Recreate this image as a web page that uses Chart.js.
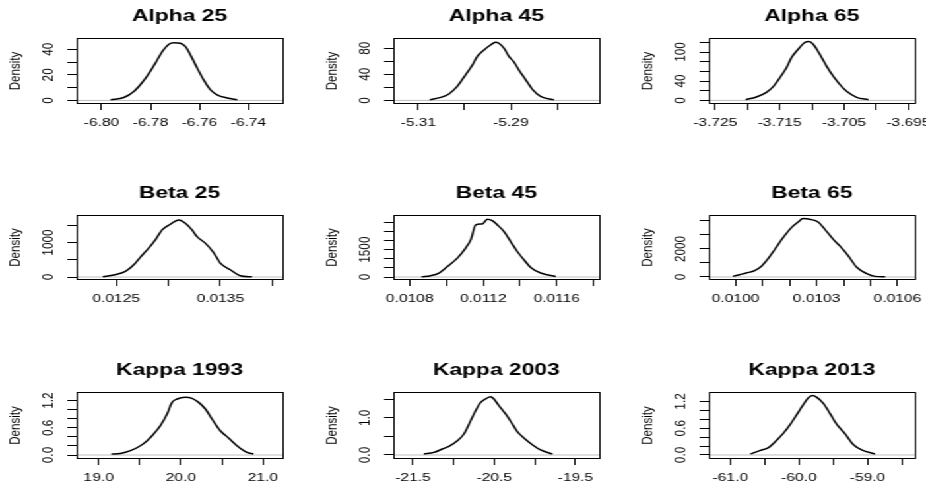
<!DOCTYPE html>
<html>
<head>
<meta charset="utf-8">
<script src="https://cdn.jsdelivr.net/npm/chart.js@4.4.1/dist/chart.umd.min.js"></script>
<style>
  html, body { margin: 0; padding: 0; background: #fff; overflow: hidden; width: 926px; height: 490px; }
  #wrap { position: absolute; left: 0; top: 0; width: 702px; height: 490px; transform: scaleX(1.32); transform-origin: 0 0; }
  #wrap canvas { position: absolute; }
</style>
</head>
<body>
<div id="wrap"></div>
<script>
// posterior density curves
const alpha25X = [-6.7963, -6.7909, -6.7868, -6.7834, -6.7807, -6.7780, -6.7752, -6.7725, -6.7705, -6.7678, -6.7657, -6.7637, -6.7609, -6.7583, -6.7555, -6.7528, -6.7487, -6.7446];
const alpha25Y = [0.5, 2.3, 7.0, 14, 21, 29.1, 38.1, 43.9, 45.1, 44.6, 42, 35.6, 25.2, 16.1, 8.3, 4.4, 1.9, 0.5];

const alpha45X = [-5.3075, -5.3052, -5.3034, -5.3016, -5.2998, -5.2983, -5.2973, -5.2958, -5.2944, -5.2933, -5.2926, -5.2915, -5.2904, -5.2894, -5.2883, -5.2868, -5.2854, -5.2836, -5.2807];
const alpha45Y = [1.1, 4.6, 9.8, 21.4, 39.2, 54.5, 67.2, 77.4, 85, 89.1, 87.6, 80, 67.2, 59.5, 46.9, 31.6, 17.4, 6.1, 1.1];

const alpha65X = [-3.72028, -3.71861, -3.71705, -3.71603, -3.71498, -3.71394, -3.71316, -3.71213, -3.71109, -3.71046, -3.70979, -3.70875, -3.70771, -3.70668, -3.70563, -3.70459, -3.70303, -3.70122];
const alpha65Y = [1.5, 7.1, 16.7, 27.9, 46.7, 67.5, 88.3, 105.6, 119.6, 121.7, 116, 95.2, 70.8, 50, 32.7, 18.8, 6.3, 1.5];

const beta25X = [0.012372, 0.012477, 0.012589, 0.012669, 0.012733, 0.012812, 0.012876, 0.012941, 0.013020, 0.013100, 0.013164, 0.013228, 0.013276, 0.013355, 0.013435, 0.013499, 0.013595, 0.013691, 0.013803];
const beta25Y = [5, 58, 162, 355, 578, 838, 1078, 1367, 1532, 1656, 1561, 1367, 1173, 983, 711, 405, 211, 38, 5];

const beta45X = [0.010865, 0.010914, 0.010959, 0.011005, 0.011059, 0.011104, 0.011132, 0.011159, 0.011195, 0.011222, 0.011249, 0.011277, 0.011313, 0.011349, 0.011385, 0.011421, 0.011458, 0.011512, 0.011594];
const beta45Y = [10, 71, 218, 578, 1037, 1582, 2035, 2853, 2908, 3164, 3088, 2853, 2488, 1942, 1397, 944, 524, 218, 33];

const beta65X = [0.009990, 0.010015, 0.010040, 0.010071, 0.010096, 0.010120, 0.010145, 0.010176, 0.010207, 0.010232, 0.010250, 0.010275, 0.010306, 0.010331, 0.010362, 0.010387, 0.010417, 0.010449, 0.010486, 0.010517, 0.010554];
const beta65Y = [43, 165, 287, 453, 761, 1293, 1961, 2802, 3520, 3922, 4167, 4116, 3922, 3398, 2680, 2198, 1530, 690, 237, 43, 20];

const kappa1993X = [19.155, 19.264, 19.386, 19.507, 19.589, 19.669, 19.751, 19.832, 19.893, 19.954, 20.055, 20.137, 20.217, 20.299, 20.380, 20.481, 20.582, 20.684, 20.806, 20.886];
const kappa1993Y = [0.022, 0.035, 0.095, 0.205, 0.316, 0.464, 0.647, 0.905, 1.161, 1.236, 1.272, 1.249, 1.161, 1.015, 0.795, 0.536, 0.375, 0.205, 0.057, 0.022];

const kappa2003X = [-21.365, -21.242, -21.138, -21.057, -20.954, -20.873, -20.790, -20.729, -20.667, -20.606, -20.544, -20.504, -20.442, -20.360, -20.277, -20.216, -20.135, -20.031, -19.929, -19.785];
const kappa2003Y = [0.027, 0.070, 0.162, 0.232, 0.385, 0.566, 0.925, 1.194, 1.418, 1.509, 1.571, 1.509, 1.329, 1.105, 0.836, 0.628, 0.458, 0.278, 0.135, 0.027];

const kappa2013X = [-60.708, -60.572, -60.451, -60.328, -60.232, -60.134, -60.036, -59.939, -59.866, -59.802, -59.744, -59.647, -59.549, -59.451, -59.330, -59.209, -59.086, -58.892];
const kappa2013Y = [0.023, 0.098, 0.159, 0.326, 0.478, 0.667, 0.895, 1.123, 1.276, 1.335, 1.298, 1.162, 0.934, 0.690, 0.478, 0.235, 0.114, 0.023];

const titles = ["Alpha 25", "Alpha 45", "Alpha 65", "Beta 25", "Beta 45", "Beta 65", "Kappa 1993", "Kappa 2003", "Kappa 2013"];
const curvesX = [alpha25X, alpha45X, alpha65X, beta25X, beta45X, beta65X, kappa1993X, kappa2003X, kappa2013X];
const curvesY = [alpha25Y, alpha45Y, alpha65Y, beta25Y, beta45Y, beta65Y, kappa1993Y, kappa2003Y, kappa2013Y];

// axis limits (R pads the data range a bit)
const xLimits = [[-6.8102, -6.7261], [-5.3154, -5.2709], [-3.726, -3.694], [0.01212, 0.014096], [0.010711, 0.011831], [0.009901, 0.010664], [18.729, 21.239], [-21.741, -19.207], [-61.313, -58.312]];
const yLimits = [[-2, 48], [-4, 94.2], [-5.4, 127], [-58, 1772], [-109, 3344], [-144, 4353], [-0.066, 1.369], [-0.081, 1.671], [-0.068, 1.39]];

const xTickValues = [
  [-6.80, -6.78, -6.76, -6.74],
  [-5.31, -5.30, -5.29, -5.28],
  [-3.725, -3.720, -3.715, -3.710, -3.705, -3.700, -3.695],
  [0.0125, 0.0130, 0.0135, 0.0140],
  [0.0108, 0.0110, 0.0112, 0.0114, 0.0116, 0.0118],
  [0.0100, 0.0101, 0.0102, 0.0103, 0.0104, 0.0105, 0.0106],
  [19.0, 19.5, 20.0, 20.5, 21.0],
  [-21.5, -21.0, -20.5, -20.0, -19.5],
  [-61.0, -60.5, -60.0, -59.5, -59.0, -58.5]
];
const xTickLabels = [
  ["-6.80", "-6.78", "-6.76", "-6.74"],
  ["-5.31", "", "-5.29", ""],
  ["-3.725", "", "-3.715", "", "-3.705", "", "-3.695"],
  ["0.0125", "", "0.0135", ""],
  ["0.0108", "", "0.0112", "", "0.0116", ""],
  ["0.0100", "", "", "0.0103", "", "", "0.0106"],
  ["19.0", "", "20.0", "", "21.0"],
  ["-21.5", "", "-20.5", "", "-19.5"],
  ["-61.0", "", "-60.0", "", "-59.0", ""]
];
const yTickValues = [
  [0, 10, 20, 30, 40],
  [0, 20, 40, 60, 80],
  [0, 20, 40, 60, 80, 100, 120],
  [0, 500, 1000, 1500],
  [0, 500, 1000, 1500, 2000, 2500, 3000],
  [0, 1000, 2000, 3000, 4000],
  [0, 0.2, 0.4, 0.6, 0.8, 1.0, 1.2],
  [0, 0.5, 1.0, 1.5],
  [0, 0.2, 0.4, 0.6, 0.8, 1.0, 1.2]
];
const yTickLabels = [
  ["0", "", "20", "", "40"],
  ["0", "", "40", "", "80"],
  ["0", "", "40", "", "", "100", ""],
  ["0", "", "1000", ""],
  ["0", "", "", "1500", "", "", ""],
  ["0", "", "2000", "", ""],
  ["0.0", "", "", "0.6", "", "", "1.2"],
  ["0.0", "", "1.0", ""],
  ["0.0", "", "", "0.6", "", "", "1.2"]
];

// layout: the picture is stretched sideways by about 1.32
const S = 1.32;
const FONT = '"Liberation Sans", Arial, sans-serif';
const TICK_SIZE = 11.8;
const colLeft = [76, 392.7, 709.3];
const colRight = [282.3, 598.7, 914.7];
const rowTop = [39, 216, 392.5];
const rowBottom = [103.3, 279.3, 457.3];
const LW = 56, RW = 24, TH = 40, BH = 30;

const wrap = document.getElementById("wrap");
const measure = document.createElement("canvas").getContext("2d");
measure.font = TICK_SIZE + "px " + FONT;

const align = (v) => Math.round(v - 0.5) + 0.5;

// frame round the plot region, like R's box()
const boxPlugin = {
  id: "box",
  afterDraw(chart) {
    const a = chart.chartArea;
    const ctx = chart.ctx;
    const l = align(a.left), t = align(a.top), r = align(a.right), b = align(a.bottom);
    ctx.save();
    ctx.strokeStyle = "#000";
    ctx.lineWidth = 1;
    ctx.strokeRect(l, t, r - l, b - t);
    ctx.restore();
  },
};

titles.forEach((title, i) => {
  const col = i % 3;
  const row = Math.floor(i / 3);
  const boxW = (colRight[col] - colLeft[col]) / S;
  const boxH = rowBottom[row] - rowTop[row];
  const w = Math.round(LW + boxW + RW);
  const h = Math.round(TH + boxH + BH);
  const cv = document.createElement("canvas");
  cv.width = w;
  cv.height = h;
  cv.style.width = w + "px";
  cv.style.height = h + "px";
  cv.style.left = (colLeft[col] / S - LW) + "px";
  cv.style.top = Math.round(rowTop[row] - TH) + "px";
  wrap.appendChild(cv);

  const widest = Math.max(...yTickLabels[i].map((l) => measure.measureText(l).width));
  const yPad = 13.9 - widest / 2;

  new Chart(cv, {
    type: "line",
    data: {
      datasets: [
        {
          data: curvesX[i].map((v, k) => ({ x: v, y: curvesY[i][k] })),
          borderColor: "#000",
          borderWidth: 1.5,
          pointRadius: 0,
          cubicInterpolationMode: "monotone",
          fill: false,
        },
        {
          // zero line drawn by plot.density
          data: [{ x: xLimits[i][0], y: 0 }, { x: xLimits[i][1], y: 0 }],
          borderColor: "#bebebe",
          borderWidth: 1,
          pointRadius: 0,
          fill: false,
        },
      ],
    },
    options: {
      responsive: false,
      animation: false,
      devicePixelRatio: 1,
      layout: { padding: { left: 0, right: RW, top: 0, bottom: 0 }, autoPadding: false },
      plugins: {
        legend: { display: false },
        tooltip: { enabled: false },
        title: {
          display: true,
          text: title,
          fullSize: false,
          color: "#000",
          font: { family: FONT, size: 17.3, weight: "bold", lineHeight: 1.2 },
          padding: { top: 6.5, bottom: 12.7 },
        },
      },
      scales: {
        x: {
          type: "linear",
          min: xLimits[i][0],
          max: xLimits[i][1],
          afterBuildTicks: (s) => { s.ticks = xTickValues[i].map((v) => ({ value: v })); },
          afterFit: (s) => { s.height = BH; },
          ticks: {
            autoSkip: false,
            minRotation: 0,
            maxRotation: 0,
            padding: 6,
            color: "#000",
            font: { family: FONT, size: TICK_SIZE },
            callback: (v, k) => xTickLabels[i][k],
          },
          grid: { drawOnChartArea: false, drawTicks: true, tickLength: 7, color: "#000", lineWidth: 1 },
          border: { display: true, color: "#000", width: 1 },
        },
        y: {
          type: "linear",
          min: yLimits[i][0],
          max: yLimits[i][1],
          afterBuildTicks: (s) => { s.ticks = yTickValues[i].map((v) => ({ value: v })); },
          afterFit: (s) => { s.width = LW; },
          ticks: {
            autoSkip: false,
            minRotation: 90,
            maxRotation: 90,
            crossAlign: "center",
            padding: yPad,
            color: "#000",
            font: { family: FONT, size: TICK_SIZE },
            callback: (v, k) => yTickLabels[i][k],
          },
          title: {
            display: true,
            text: "Density",
            color: "#000",
            font: { family: FONT, size: 11.6, lineHeight: 1.2 },
            padding: { top: 2.5, bottom: 0 },
          },
          grid: { drawOnChartArea: false, drawTicks: true, tickLength: 7, color: "#000", lineWidth: 1 },
          border: { display: true, color: "#000", width: 1 },
        },
      },
    },
    plugins: [boxPlugin],
  });
});
</script>
</body>
</html>
